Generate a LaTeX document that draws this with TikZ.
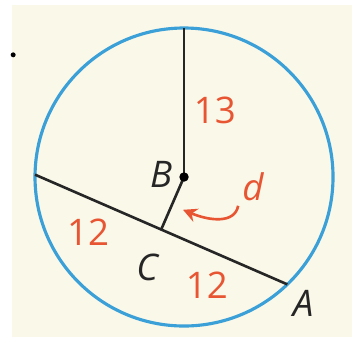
\documentclass[tikz,border=0pt]{standalone}
\usepackage{fontspec}
\setmainfont{Open Sans}
\usetikzlibrary{arrows.meta, calc}
\definecolor{cream}{RGB}{250,248,233}
\definecolor{circblue}{RGB}{58,160,215}
\definecolor{lblred}{RGB}{232,85,50}
\begin{document}
\begin{tikzpicture} [line join = round,
	seg/.style = {black!85, line width = 1.5pt},
	num/.style = {lblred, font = \fontsize{21}{21}\selectfont},
	pt/.style = {black!85, font = \fontsize{21}{21}\selectfont\itshape}]
	\useasboundingbox (-3.705,-3.262) rectangle (3.503,3.564);
	\fill [cream] (-3.463,-3.221) rectangle (3.383,3.463);
	\fill [black] (-3.44,2.46) circle (0.05cm);
	\draw [circblue, line width = 1.8pt] (0,0) circle (3cm);
	\coordinate (B) at (0,0);
	\coordinate (T) at (90:3);
	\coordinate (P) at (179.1:3);
	\coordinate (A) at (313.9:3);
	\coordinate (C) at ($(P)!0.5!(A)$);
	\draw [seg] (B) -- (T);
	\draw [seg] (P) -- (A);
	\draw [seg] (B) -- (C);
	\fill [black] (B) circle (0.095cm);
	\node [num] (r) at (0.62,1.35) {13};
	\node [num] (h1) at (-1.93,-1.11) {12};
	\node [num] (h2) at (0.46,-2.17) {12};
	\node [pt] (lB) at (-0.46,0.05) {B};
	\node [pt] (lC) at (-0.74,-1.83) {C};
	\node [pt] (lA) at (2.40,-2.54) {A};
	\node [num, font = \fontsize{21}{21}\selectfont\itshape] (ld) at (1.39,-0.20) {d};
	\coordinate (ds) at (1.09,-0.58);
	\coordinate (dt) at (-0.02,-0.66);
	\draw [lblred, line width = 1.5pt, -{Stealth[length=8pt, width=8pt]}] (ds) .. controls (1.02,-0.95) and (0.5,-0.88) .. (dt);
	%\draw (C) node [below] {$C$};
	\end{tikzpicture}
\end{document}
